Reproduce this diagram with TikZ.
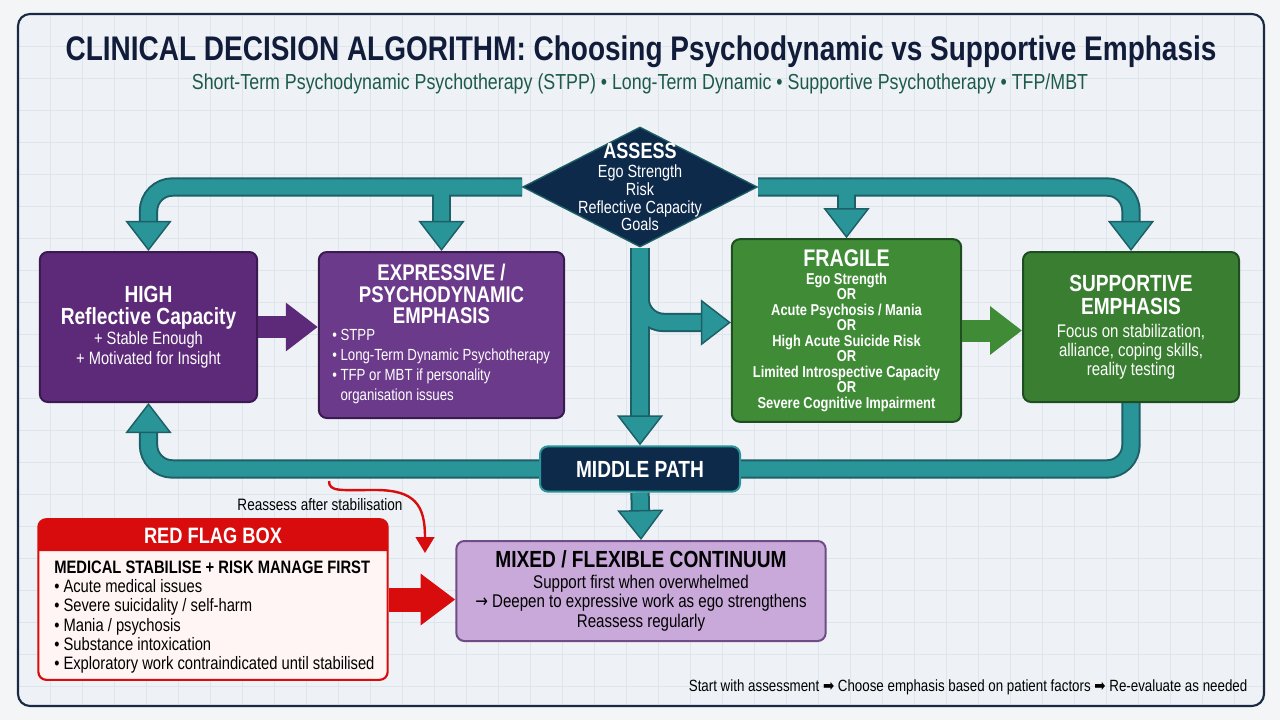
\documentclass[tikz,border=0pt]{standalone}
\usepackage{fontspec}
\setmainfont{Liberation Sans}[FakeStretch=0.82]
\newfontfamily\symfont{DejaVu Sans}[FakeStretch=0.82]
\usetikzlibrary{arrows.meta,shapes.geometric,calc,backgrounds}
\definecolor{outerbg}{HTML}{F3F5F7}
\definecolor{bgc}{HTML}{EEF2F6}
\definecolor{gridc}{HTML}{DEE5EB}
\definecolor{framec}{HTML}{1A2A44}
\definecolor{titlec}{HTML}{101C3A}
\definecolor{subc}{HTML}{1D5A4C}
\definecolor{navy}{HTML}{0E2A4B}
\definecolor{tealc}{HTML}{2A9598}
\definecolor{tealdk}{HTML}{1C5F66}
\definecolor{purA}{HTML}{5C2A78}
\definecolor{purB}{HTML}{6B3A8A}
\definecolor{purdk}{HTML}{3B1A52}
\definecolor{greenA}{HTML}{3F8B36}
\definecolor{greenB}{HTML}{3A7F31}
\definecolor{greendk}{HTML}{1F4D22}
\definecolor{lav}{HTML}{C8A9D9}
\definecolor{lavdk}{HTML}{6F4C86}
\definecolor{redc}{HTML}{D80C0C}
\definecolor{redbody}{HTML}{FFF5F4}
\tikzset{
  box/.style={rounded corners=6pt, line width=1.5pt, inner sep=0pt, align=center, text=white},
  blockarrow/.style={line width=16.5pt, -{Triangle[length=24pt,width=35pt]}},
}
\newcommand\bigb[1]{{\bfseries\fontsize{17.5}{17}\selectfont #1}}
\begin{document}
\begin{tikzpicture}[x=0.75pt,y=-0.75pt]
\useasboundingbox (0,0) rectangle (1280,720);

% titles
\node[font=\bfseries\fontsize{25.6}{28}\selectfont, text=titlec] (title) at (641,52)
  {CLINICAL DECISION ALGORITHM: Choosing Psychodynamic vs Supportive Emphasis};
\node[font=\fontsize{16.3}{18}\selectfont, text=subc] (subtitle) at (640,84)
  {Short-Term Psychodynamic Psychotherapy (STPP) • Long-Term Dynamic • Supportive Psychotherapy • TFP/MBT};

% assess diamond
\node[diamond, fill=navy, draw=tealdk, line width=1pt, minimum width=176pt, minimum height=90pt, inner sep=0pt] (assess) at (640,187) {};
\node[text=white, align=center, font=\fontsize{13.2}{13.4}\selectfont] (assesstxt) at (640,187)
  {{\bfseries\fontsize{16.5}{16.5}\selectfont ASSESS}\\[1pt]Ego Strength\\Risk\\Reflective Capacity\\Goals};

% boxes
\node[box, fill=purA, draw=purdk, minimum width=163pt, minimum height=112.5pt, font=\fontsize{13.4}{14.5}\selectfont] (high) at (148.5,327)
  {\bigb{HIGH}\\[2pt]\bigb{Reflective Capacity}\\[1pt]+ Stable Enough\\+ Motivated for Insight};

\node[box, fill=purB, draw=purdk, minimum width=184pt, minimum height=124.5pt] (expr) at (441.5,335) {};
\node[text=white, align=center, font=\bfseries\fontsize{17}{16}\selectfont] (exprtitle) at (441.5,294)
  {EXPRESSIVE /\\PSYCHODYNAMIC\\EMPHASIS};
\node[text=white, align=left, anchor=north west, inner sep=0pt, font=\fontsize{12.1}{15}\selectfont] (exprlist) at (332,329)
  {• STPP\\• Long-Term Dynamic Psychotherapy\\• TFP or MBT if personality\\\phantom{• }organisation issues};

\node[box, fill=greenA, draw=greendk, minimum width=172pt, minimum height=137pt, font=\bfseries\fontsize{11.8}{11.6}\selectfont] (fragile) at (846.5,330.5)
  {{\fontsize{18}{18}\selectfont FRAGILE}\\[2pt]Ego Strength\\OR\\Acute Psychosis / Mania\\OR\\High Acute Suicide Risk\\OR\\Limited Introspective Capacity\\OR\\Severe Cognitive Impairment};

\node[box, fill=greenB, draw=greendk, minimum width=162pt, minimum height=112.5pt, font=\fontsize{13.7}{14.3}\selectfont] (supp) at (1131,327)
  {\bigb{SUPPORTIVE}\\[3.5pt]\bigb{EMPHASIS}\\[2.5pt]Focus on stabilization,\\alliance, coping skills,\\reality testing};

\node[box, fill=navy, draw=tealc, minimum width=150pt, minimum height=34pt, font=\bfseries\fontsize{17.5}{18}\selectfont] (middle) at (640,469)
  {MIDDLE PATH};

\node[box, fill=lav, draw=lavdk, text=black, minimum width=277pt, minimum height=75pt, font=\fontsize{13.8}{14.6}\selectfont] (mixed) at (641,591)
  {\bigb{MIXED / FLEXIBLE CONTINUUM}\\[1pt]Support first when overwhelmed\\{\symfont →} Deepen to expressive work as ego strengthens\\Reassess regularly};

% red flag box
\node[rounded corners=6pt, line width=1.6pt, draw=redc, fill=redbody, minimum width=262pt, minimum height=120.5pt] (redbox) at (213,599.5) {};
\fill[redc] (38,551) [rounded corners=6pt] -- (38,519) -- (388,519) [sharp corners] -- (388,551) -- cycle;
\node[text=white, font=\bfseries\fontsize{16.7}{18}\selectfont] (redhead) at (213,536) {RED FLAG BOX};
\node[anchor=north west, align=left, inner sep=0pt, text=black, font=\fontsize{13.5}{14.3}\selectfont] (redlist) at (54,561)
  {{\bfseries\fontsize{13.5}{14}\selectfont MEDICAL STABILISE + RISK MANAGE FIRST}\\
   • Acute medical issues\\• Severe suicidality / self-harm\\• Mania / psychosis\\• Substance intoxication\\• Exploratory work contraindicated until stabilised};

% reassess label and curve
\node[font=\fontsize{12.4}{14}\selectfont, text=black] (reasslabel) at (320,505) {Reassess after stabilisation};
\coordinate (rs) at (329,481);
\coordinate (re) at (425,553);
\draw[redc, line width=1.8pt, -{Triangle[length=12pt,width=14pt]}]
  (rs) .. controls (329,492) and (340,490) .. (375,490) .. controls (415,490) and (425,505) .. (re);

% block arrows
\draw[blockarrow, draw=purA] (high.east) -- (high.east -| expr.west);
\draw[blockarrow, draw=greenA] (fragile.east) -- (fragile.east -| supp.west);
\draw[blockarrow, draw=redc, line width=18pt, -{Triangle[length=26pt,width=37pt]}] (redbox.east) -- (redbox.east -| mixed.west);

% footer
\node[anchor=east, text=black, font=\fontsize{12.2}{14}\selectfont] (footer) at (1252,687)
  {Start with assessment {\symfont ➡} Choose emphasis based on patient factors {\symfont ➡} Re-evaluate as needed};

\coordinate (branch) at (640,290);

\newcommand\tealnet{%
  \draw[tflow,tealtip] (assess.west) -| (high.north);
  \draw[tflow,tealtip] (assess.east) -| (supp.north);
  \draw[tflow,tealtip] (assess.west -| expr.north) -- (expr.north);
  \draw[tflow,tealtip] (assess.east -| fragile.north) -- (fragile.north);
  \draw[tflow,tealtip] (assess.south) -- (middle.north);
  \draw[tflow,tealtip] (branch) |- ([yshift=6pt]fragile.west);
  \draw[tflow,tealtip] (middle.west) -| (high.south);
  \draw[tflow] (supp.south) |- (middle.east);
  \draw[tflow,tealtip] (middle.south) -- (mixed.north);
}

\begin{scope}[on background layer]
  \fill[outerbg] (0,0) rectangle (1280,720);
  \begin{scope}
    \clip[rounded corners=9pt] (18,14) rectangle (1264,706);
    \fill[bgc] (18,14) rectangle (1264,706);
    \foreach \i in {18,50,...,1264} \draw[gridc,line width=0.6pt] (\i,14) -- (\i,706);
    \foreach \j in {14,46,...,706} \draw[gridc,line width=0.6pt] (18,\j) -- (1264,\j);
  \end{scope}
  \draw[framec, line width=1.6pt, rounded corners=9pt] (18,14) rectangle (1264,706);
  \tikzset{tflow/.style={draw=tealdk, line width=14.5pt, rounded corners=18pt},
           tealtip/.style={shorten >=20pt}}
  \tealnet
  \tikzset{tflow/.style={draw=tealc, line width=11.5pt, rounded corners=18pt},
           tealtip/.style={-{Triangle[length=22.5pt,width=34.5pt,fill=tealc,color=tealdk,line width=1.1pt]}}}
  \tealnet
\end{scope}
\end{tikzpicture}
\end{document}
